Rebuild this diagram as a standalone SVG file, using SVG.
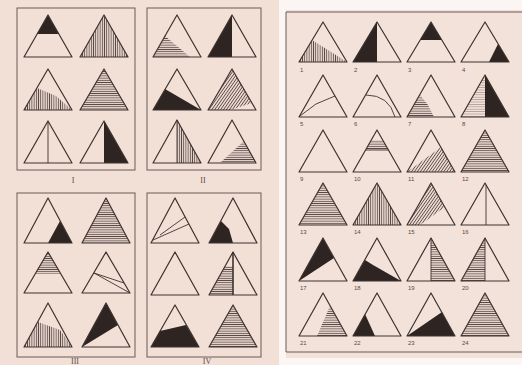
<svg xmlns="http://www.w3.org/2000/svg" width="522" height="365" viewBox="0 0 522 365">
<defs>
<pattern id="hh" patternUnits="userSpaceOnUse" width="6" height="2.2"><line x1="0" y1="1.1" x2="6" y2="1.1" stroke="#5a4a46" stroke-width="0.9"/></pattern>
<pattern id="vh" patternUnits="userSpaceOnUse" width="2.2" height="6"><line x1="1.1" y1="0" x2="1.1" y2="6" stroke="#5a4a46" stroke-width="0.9"/></pattern>
<pattern id="dh" patternUnits="userSpaceOnUse" width="2.4" height="6" patternTransform="rotate(35)"><line x1="1.2" y1="0" x2="1.2" y2="6" stroke="#5a4a46" stroke-width="0.9"/></pattern>
<pattern id="lh" patternUnits="userSpaceOnUse" width="6" height="2.4"><line x1="0" y1="1.2" x2="6" y2="1.2" stroke="#9a8a85" stroke-width="0.7"/></pattern>
</defs>
<style>
.o{fill:none;stroke:#3d3230;stroke-width:1.2;stroke-linejoin:round}
.d{fill:#2e2422}
.h{fill:url(#hh)}
.v{fill:url(#vh)}
.g{fill:url(#dh)}
.l{fill:none;stroke:#3d3230;stroke-width:0.9}
.box{fill:none;stroke:#6b5b57;stroke-width:1}
.n{font-family:"Liberation Sans",Arial,sans-serif;font-size:6px;fill:#5a4a46}
.r{font-family:"Liberation Serif","Times New Roman",serif;font-size:8px;fill:#5a4a46;text-anchor:middle}
</style>
<rect x="0" y="0" width="522" height="365" fill="#fbf6f3"/>
<rect x="0" y="0" width="279" height="365" fill="#f2dfd6"/>
<rect x="286" y="10" width="236" height="348" fill="#f3e2d9"/>

<!-- Left page panels -->
<g id="frames">
<rect class="box" x="17" y="8" width="118" height="162"/>
<rect class="box" x="147" y="8" width="114" height="162"/>
<rect class="box" x="17" y="193" width="118" height="164"/>
<rect class="box" x="147" y="193" width="114" height="164"/>
<path class="box" d="M286,12 H522 M286,12 V352 H522"/>
</g>
<g id="panel-labels">
<text class="r" x="73" y="183">I</text>
<text class="r" x="203" y="183">II</text>
<text class="r" x="75" y="364">III</text>
<text class="r" x="207" y="364">IV</text>
</g>

<!-- Panel I -->
<g id="p1t1"><polygon class="d" points="48,15 37,34 59,34"/><polygon class="o" points="48,15 24,57 72,57"/></g>
<g id="p1t2"><polygon class="v" points="104,15 80,57 128,57"/><polygon class="o" points="104,15 80,57 128,57"/></g>
<g id="p1t3"><polygon class="v" points="24,110 37,88 56,96 72,110"/><polygon class="o" points="48,69 24,110 72,110"/></g>
<g id="p1t4"><polygon class="h" points="104,69 80,110 128,110"/><polygon class="o" points="104,69 80,110 128,110"/></g>
<g id="p1t5"><line class="l" x1="48" y1="121" x2="48" y2="163"/><polygon class="o" points="48,121 24,163 72,163"/></g>
<g id="p1t6"><polygon class="d" points="104,121 104,163 128,163"/><polygon class="o" points="104,121 80,163 128,163"/></g>

<!-- Panel II -->
<g id="p2t1"><polygon class="h" points="153,57 165,36 190,57"/><polygon class="o" points="177,15 153,57 201,57"/></g>
<g id="p2t2"><polygon class="d" points="232,15 208,57 232,57"/><polygon class="o" points="232,15 208,57 256,57"/></g>
<g id="p2t3"><polygon class="d" points="153,110 165,89 201,110"/><polygon class="o" points="177,69 153,110 201,110"/></g>
<g id="p2t4"><polygon class="g" points="232,69 208,110 230,110 252,103"/><polygon class="o" points="232,69 208,110 256,110"/></g>
<g id="p2t5"><polygon class="v" points="177,120 177,163 201,163"/><line class="l" x1="177" y1="120" x2="177" y2="163"/><polygon class="o" points="177,120 153,163 201,163"/></g>
<g id="p2t6"><polygon class="h" points="220,163 244,141 256,163"/><polygon class="o" points="232,120 208,163 256,163"/></g>

<!-- Panel III -->
<g id="p3t1"><polygon class="d" points="48,243 60,221 72,243"/><polygon class="o" points="48,198 24,243 72,243"/></g>
<g id="p3t2"><polygon class="h" points="106,198 82,243 130,243"/><polygon class="o" points="106,198 82,243 130,243"/></g>
<g id="p3t3"><polygon class="h" points="48,252 35,274 61,274"/><polygon class="o" points="48,252 24,293 72,293"/></g>
<g id="p3t4"><path class="l" d="M94,273 L130,293 M94,273 L124,283"/><polygon class="o" points="106,252 82,293 130,293"/></g>
<g id="p3t5"><polygon class="v" points="24,347 38,322 60,330 72,347"/><polygon class="o" points="48,303 24,347 72,347"/></g>
<g id="p3t6"><polygon class="d" points="82,347 106,303 118,325"/><polygon class="o" points="106,303 82,347 130,347"/></g>

<!-- Panel IV -->
<g id="p4t1"><path class="l" d="M153,240 L189,224 M160,235 L185,217"/><polygon class="o" points="175,198 151,243 199,243"/></g>
<g id="p4t2"><polygon class="d" points="209,243 221,221 229,229 233,243"/><polygon class="o" points="233,198 209,243 257,243"/></g>
<g id="p4t3"><polygon class="o" points="175,252 151,295 199,295"/></g>
<g id="p4t4"><polygon class="h" points="209,295 225,266 233,266 233,295"/><line x1="233" y1="252" x2="233" y2="295" stroke="#3d3230" stroke-width="1.6"/><polygon class="o" points="233,252 209,295 257,295"/></g>
<g id="p4t5"><polygon class="d" points="151,347 160,331 186,325 199,347"/><polygon class="o" points="175,305 151,347 199,347"/></g>
<g id="p4t6"><polygon class="h" points="233,305 209,347 257,347"/><polygon class="o" points="233,305 209,347 257,347"/></g>

<!-- Right page -->
<g id="t1"><polygon class="v" points="299,62 312,40 347,62"/><polygon class="o" points="323,22 299,62 347,62"/><text class="n" x="300" y="72">1</text></g>
<g id="t2"><polygon class="d" points="377,22 353,62 377,62"/><polygon class="o" points="377,22 353,62 401,62"/><text class="n" x="354" y="72">2</text></g>
<g id="t3"><polygon class="d" points="431,22 420,40 442,40"/><polygon class="o" points="431,22 407,62 455,62"/><text class="n" x="408" y="72">3</text></g>
<g id="t4"><polygon class="d" points="489,62 498,44 509,62"/><polygon class="o" points="485,22 461,62 509,62"/><text class="n" x="462" y="72">4</text></g>

<g id="t5"><polyline class="l" points="300,116 316,104 335,96"/><polygon class="o" points="323,75 299,117 347,117"/><text class="n" x="300" y="126">5</text></g>
<g id="t6"><path class="l" d="M366,95 Q389,95 395,117"/><polygon class="o" points="377,75 353,117 401,117"/><text class="n" x="354" y="126">6</text></g>
<g id="t7"><polygon class="h" points="407,117 420,95 428,105 434,117"/><polygon class="o" points="431,75 407,117 455,117"/><text class="n" x="408" y="126">7</text></g>
<g id="t8"><polygon fill="url(#lh)" points="485,75 461,117 485,117"/><polygon class="d" points="485,75 485,117 509,117"/><polygon class="o" points="485,75 461,117 509,117"/><text class="n" x="462" y="126">8</text></g>

<g id="t9"><polygon class="o" points="323,130 299,172 347,172"/><text class="n" x="300" y="181">9</text></g>
<g id="t10"><polygon class="h" points="371.3,140 382.7,140 388.4,150 365.6,150"/><line class="l" x1="365.6" y1="150" x2="388.4" y2="150"/><polygon class="o" points="377,130 353,172 401,172"/><text class="n" x="354" y="181">10</text></g>
<g id="t11"><polygon class="g" points="407,172 441,147 455,172"/><polygon class="o" points="431,130 407,172 455,172"/><text class="n" x="408" y="181">11</text></g>
<g id="t12"><polygon class="h" points="485,130 461,172 509,172"/><polygon class="o" points="485,130 461,172 509,172"/><text class="n" x="462" y="181">12</text></g>

<g id="t13"><polygon class="h" points="323,183 299,225 347,225"/><polygon class="o" points="323,183 299,225 347,225"/><text class="n" x="300" y="234">13</text></g>
<g id="t14"><polygon class="v" points="377,183 353,225 401,225"/><polygon class="o" points="377,183 353,225 401,225"/><text class="n" x="354" y="234">14</text></g>
<g id="t15"><polygon class="g" points="431,183 407,225 420,225 445,207"/><polygon class="o" points="431,183 407,225 455,225"/><text class="n" x="408" y="234">15</text></g>
<g id="t16"><line class="l" x1="486" y1="185" x2="486" y2="225"/><polygon class="o" points="485,183 461,225 509,225"/><text class="n" x="462" y="234">16</text></g>

<g id="t17"><polygon class="d" points="299,281 323,238 334,258"/><polygon class="o" points="323,238 299,281 347,281"/><text class="n" x="300" y="290">17</text></g>
<g id="t18"><polygon class="d" points="353,281 365,260 373,265 401,281"/><polygon class="o" points="377,238 353,281 401,281"/><text class="n" x="354" y="290">18</text></g>
<g id="t19"><polygon class="h" points="431,238 431,281 455,281"/><line class="l" x1="431" y1="238" x2="431" y2="281"/><polygon class="o" points="431,238 407,281 455,281"/><text class="n" x="408" y="290">19</text></g>
<g id="t20"><polygon class="h" points="485,238 461,281 485,281"/><line class="l" x1="485" y1="238" x2="485" y2="281"/><polygon class="o" points="485,238 461,281 509,281"/><text class="n" x="462" y="290">20</text></g>

<g id="t21"><polygon class="h" points="317,336 330,306 347,336"/><polygon class="o" points="323,293 299,336 347,336"/><text class="n" x="300" y="345">21</text></g>
<g id="t22"><polygon class="d" points="353,336 365,314 375,336"/><polygon class="o" points="377,293 353,336 401,336"/><text class="n" x="354" y="345">22</text></g>
<g id="t23"><polygon class="d" points="407,336 442,312 455,336"/><polygon class="o" points="431,293 407,336 455,336"/><text class="n" x="408" y="345">23</text></g>
<g id="t24"><polygon class="h" points="485,293 461,336 509,336"/><polygon class="o" points="485,293 461,336 509,336"/><text class="n" x="462" y="345">24</text></g>
</svg>
